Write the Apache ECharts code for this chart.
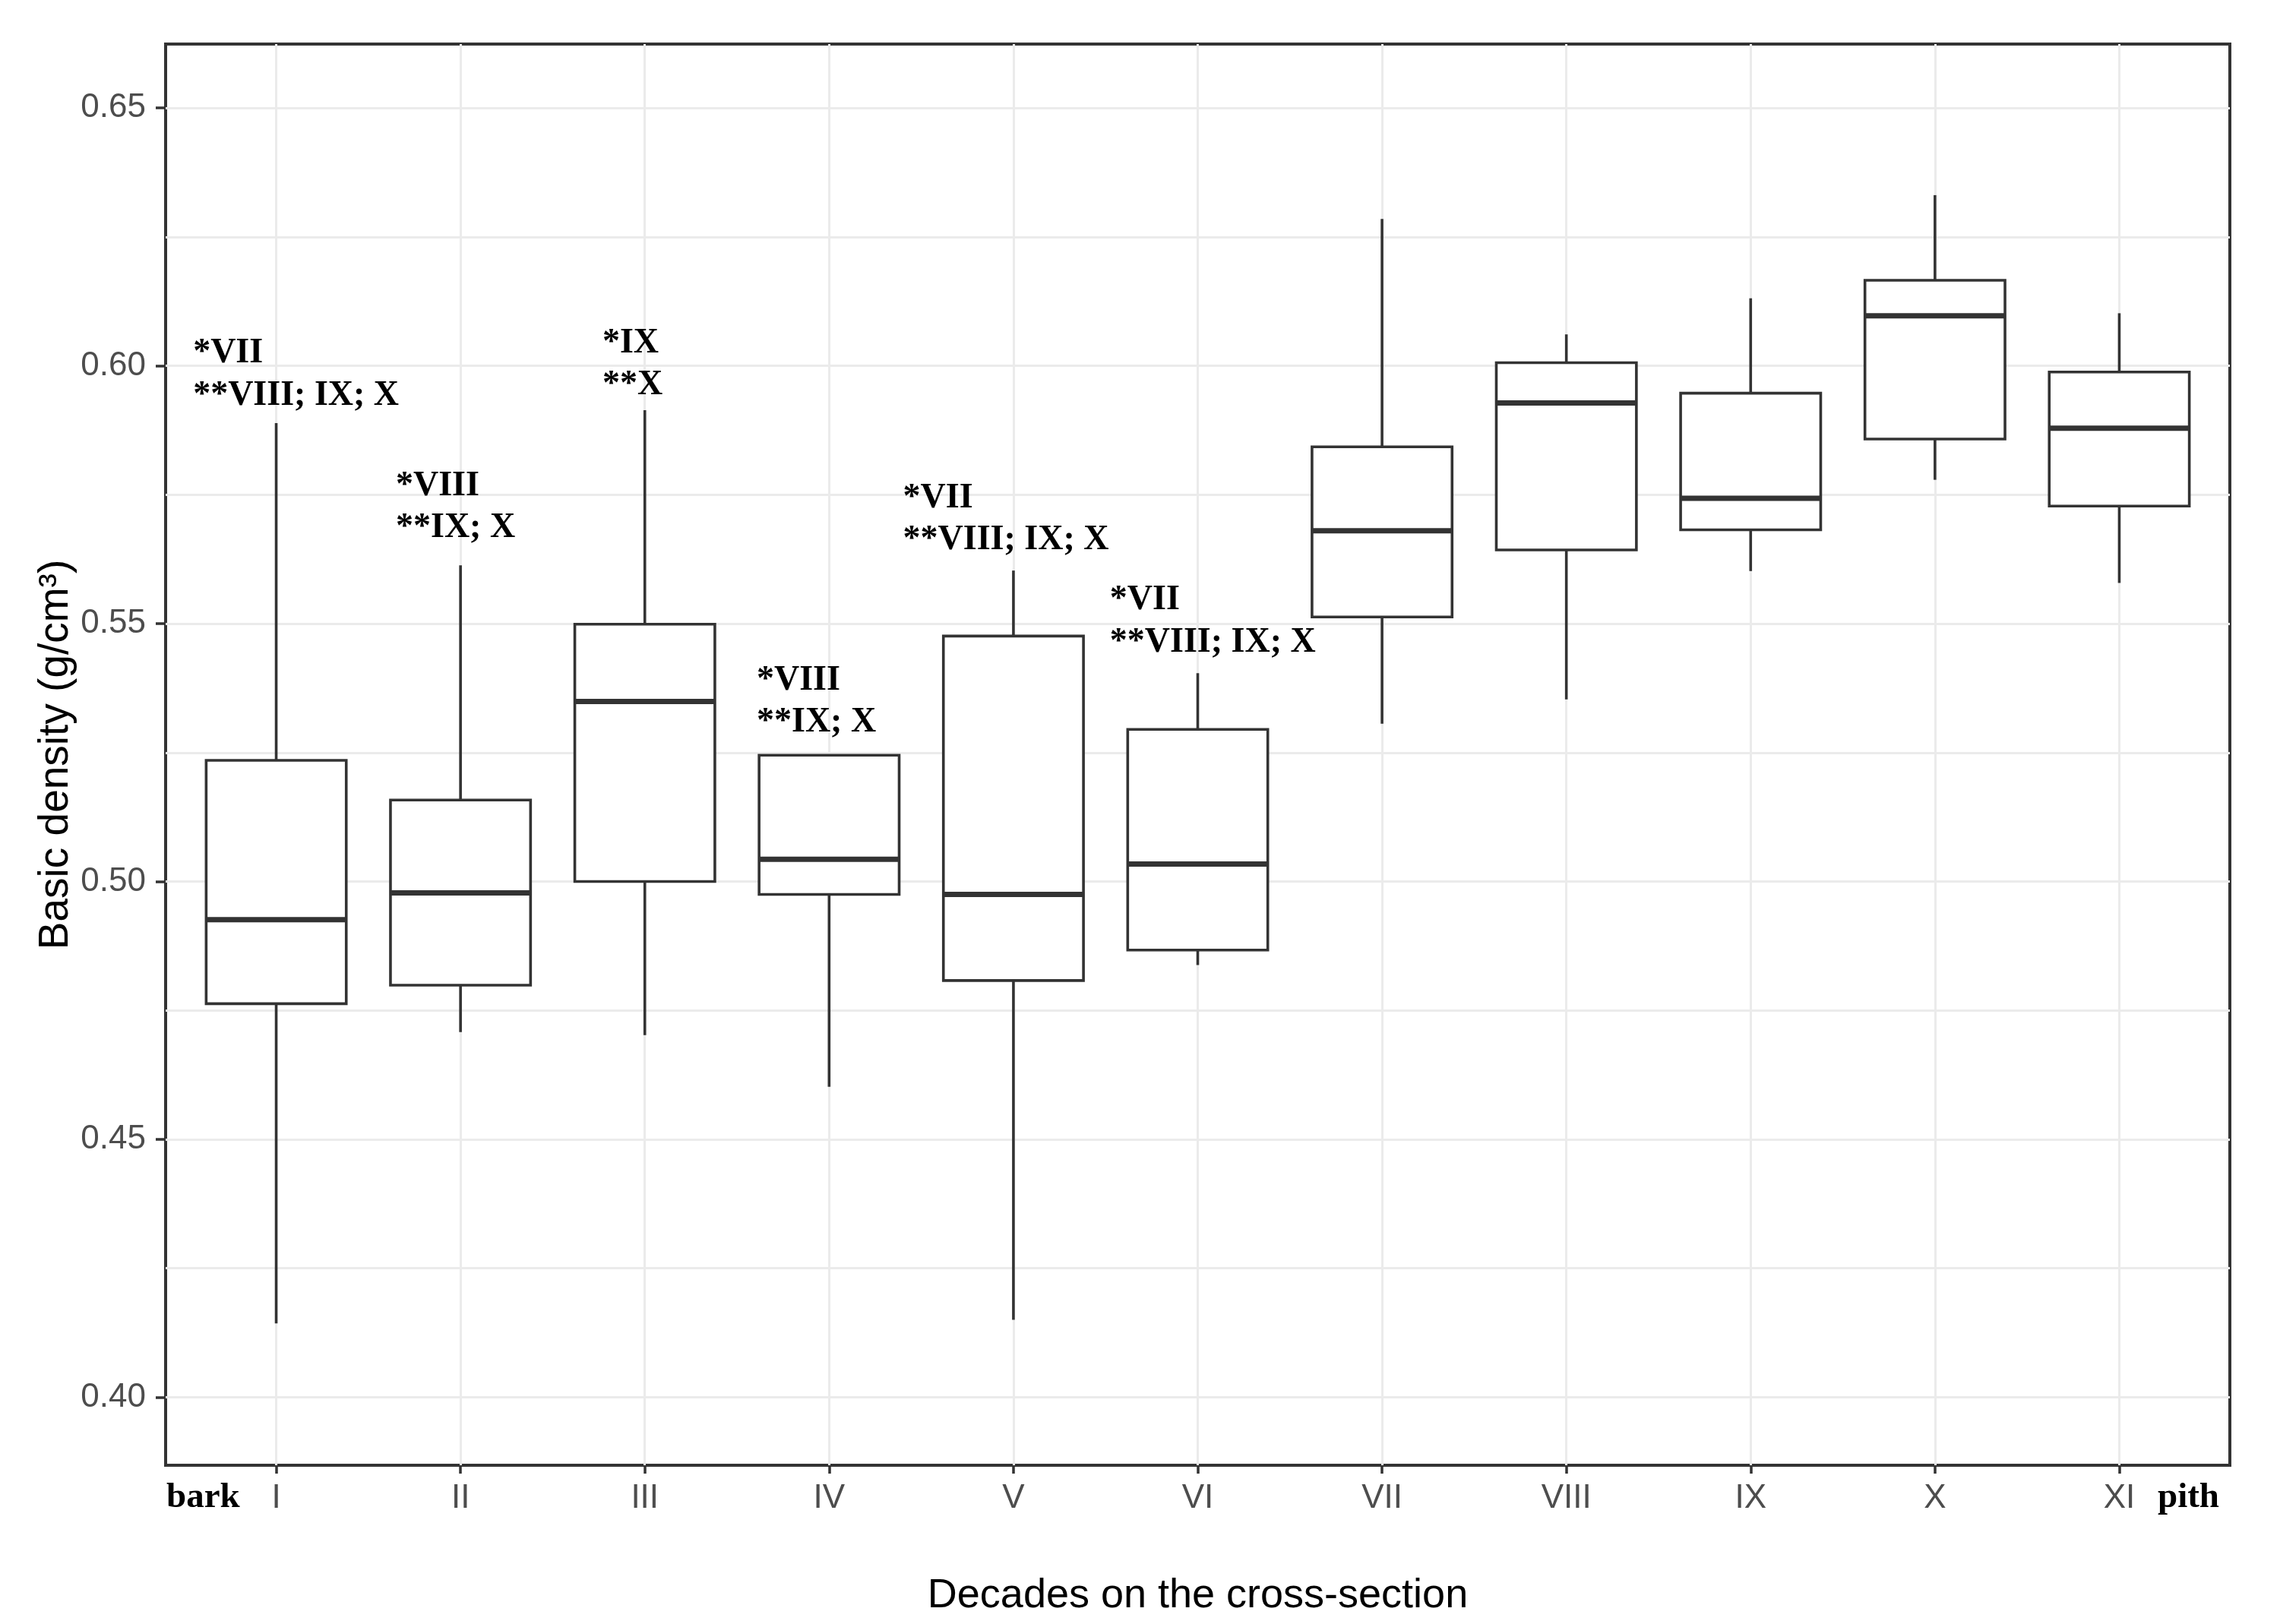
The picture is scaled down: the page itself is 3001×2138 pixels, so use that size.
<!DOCTYPE html>
<html>
<head>
<meta charset="utf-8">
<script src="https://cdn.jsdelivr.net/npm/echarts@6.0.0/dist/echarts.min.js"></script>
<style>
  html, body { margin: 0; padding: 0; background: #ffffff; }
  #chart { width: 3001px; height: 2138px; }
</style>
</head>
<body>
<div id="chart"></div>
<script>
// ---- data ----
const decades      = ['I', 'II', 'III', 'IV', 'V', 'VI', 'VII', 'VIII', 'IX', 'X', 'XI'];
const whiskerLow   = [0.4143, 0.4708, 0.4702, 0.4602, 0.4150, 0.4838, 0.5306, 0.5353, 0.5602, 0.5779, 0.5579];
const quartile1    = [0.4763, 0.4799, 0.5000, 0.4975, 0.4808, 0.4867, 0.5513, 0.5643, 0.5682, 0.5858, 0.5728];
const medianVals   = [0.4926, 0.4978, 0.5349, 0.5043, 0.4975, 0.5034, 0.5680, 0.5928, 0.5743, 0.6097, 0.5879];
const quartile3    = [0.5235, 0.5158, 0.5499, 0.5245, 0.5476, 0.5295, 0.5843, 0.6006, 0.5947, 0.6166, 0.5988];
const whiskerHigh  = [0.5889, 0.5613, 0.5914, 0.5245, 0.5603, 0.5404, 0.6285, 0.6061, 0.6131, 0.6331, 0.6102];

const yTicks       = [0.40, 0.45, 0.50, 0.55, 0.60, 0.65];
const yMinorTicks  = [0.425, 0.475, 0.525, 0.575, 0.625];

// significance annotations: anchor x (category units), anchor y (density), two text lines
const annoX        = [0.549, 1.649, 2.770, 3.607, 4.401, 5.523];
const annoY        = [0.6024, 0.5767, 0.6044, 0.5390, 0.5743, 0.5545];
const annoLine1    = ['*VII', '*VIII', '*IX', '*VIII', '*VII', '*VII'];
const annoLine2    = ['**VIII; IX; X', '**IX; X', '**X', '**IX; X', '**VIII; IX; X', '**VIII; IX; X'];

// ---- build ----
const xPositions = decades.map((d, i) => i + 1);
const boxData = decades.map((d, i) => [xPositions[i], whiskerLow[i], quartile1[i], medianVals[i], quartile3[i], whiskerHigh[i]]);
const annoData = annoX.map((x, i) => [x, annoY[i]]);

const INK = '#333333';
const GRID = '#EBEBEB';
const SANS = '"Liberation Sans", Arial, sans-serif';
const SERIF_BOLD = 'bold 46px "Liberation Serif", "Times New Roman", serif';

const chart = echarts.init(document.getElementById('chart'), null, { renderer: 'canvas' });

chart.setOption({
  animation: false,
  backgroundColor: '#ffffff',
  grid: {
    left: 218, right: 66, top: 58, bottom: 209,
    show: true, borderColor: INK, borderWidth: 4, backgroundColor: '#ffffff',
    containLabel: false, outerBoundsMode: 'none'
  },
  xAxis: {
    type: 'value', min: 0.4, max: 11.6,
    name: 'Decades on the cross-section', nameLocation: 'middle', nameGap: 145, nameMoveOverlap: false,
    nameTextStyle: { fontFamily: SANS, fontSize: 54, color: '#000000' },
    axisLine: { show: false },
    axisTick: { show: true, length: 11, lineStyle: { color: INK, width: 3.5 }, customValues: xPositions },
    axisLabel: {
      customValues: xPositions, margin: 22, fontFamily: SANS, fontSize: 44, color: '#4D4D4D',
      formatter: v => decades[Math.round(v) - 1] || ''
    },
    splitLine: { show: true, lineStyle: { color: GRID, width: 3 } }
  },
  yAxis: [{
    type: 'value', min: 0.3868, max: 0.6624,
    name: 'Basic density (g/cm³)', nameLocation: 'middle', nameGap: 117, nameMoveOverlap: false,
    nameTextStyle: { fontFamily: SANS, fontSize: 55, color: '#000000' },
    axisLine: { show: false },
    axisTick: { show: true, length: 13, lineStyle: { color: INK, width: 3.5 }, customValues: yTicks },
    axisLabel: {
      customValues: yTicks, margin: 26, fontFamily: SANS, fontSize: 44, color: '#4D4D4D',
      formatter: v => v.toFixed(2)
    },
    splitLine: { show: true, lineStyle: { color: GRID, width: 3 } }
  }, {
    type: 'value', min: 0.3868, max: 0.6624, position: 'left',
    axisLine: { show: false },
    axisTick: { show: false, customValues: yMinorTicks },
    axisLabel: { show: false, customValues: yMinorTicks },
    splitLine: { show: true, lineStyle: { color: GRID, width: 3 } }
  }],
  series: [{
    type: 'custom',
    name: 'Basic density',
    xAxisIndex: 0, yAxisIndex: 0,
    data: boxData,
    dimensions: ['x', 'min', 'Q1', 'median', 'Q3', 'max'],
    encode: { x: 0, y: [1, 2, 3, 4, 5] },
    renderItem: function (params, api) {
      const x = api.value(0);
      const lo = api.coord([x, api.value(1)]);
      const q1 = api.coord([x, api.value(2)]);
      const md = api.coord([x, api.value(3)]);
      const q3 = api.coord([x, api.value(4)]);
      const hi = api.coord([x, api.value(5)]);
      const half = api.size([0.76, 0])[0] / 2;
      const thin = { stroke: INK, lineWidth: 3.6, fill: null };
      return {
        type: 'group',
        children: [
          { type: 'line', shape: { x1: lo[0], y1: lo[1], x2: q1[0], y2: q1[1] }, style: thin },
          { type: 'line', shape: { x1: q3[0], y1: q3[1], x2: hi[0], y2: hi[1] }, style: thin },
          { type: 'rect', shape: { x: q1[0] - half, y: q3[1], width: 2 * half, height: q1[1] - q3[1] },
            style: { stroke: INK, lineWidth: 3.6, fill: '#ffffff' } },
          { type: 'line', shape: { x1: md[0] - half, y1: md[1], x2: md[0] + half, y2: md[1] },
            style: { stroke: INK, lineWidth: 7 } }
        ]
      };
    },
    z: 3
  }, {
    type: 'custom',
    name: 'annotations',
    xAxisIndex: 0, yAxisIndex: 0,
    data: annoData,
    encode: { x: 0, y: 1 },
    silent: true,
    renderItem: function (params, api) {
      const p = api.coord([api.value(0), api.value(1)]);
      const i = params.dataIndex;
      return {
        type: 'group',
        children: [
          { type: 'text', x: p[0], y: p[1], style: { text: annoLine1[i], font: SERIF_BOLD, fill: '#000000', align: 'left', verticalAlign: 'middle' } },
          { type: 'text', x: p[0], y: p[1] + 55.5, style: { text: annoLine2[i], font: SERIF_BOLD, fill: '#000000', align: 'left', verticalAlign: 'middle' } }
        ]
      };
    },
    z: 4
  }],
  graphic: [
    { type: 'text', x: 219, y: 1972, style: { text: 'bark', font: 'bold 47px "Liberation Serif", serif', fill: '#000000', align: 'left', verticalAlign: 'middle' } },
    { type: 'text', x: 2921, y: 1972, style: { text: 'pith', font: 'bold 47px "Liberation Serif", serif', fill: '#000000', align: 'right', verticalAlign: 'middle' } }
  ]
});
</script>
</body>
</html>
